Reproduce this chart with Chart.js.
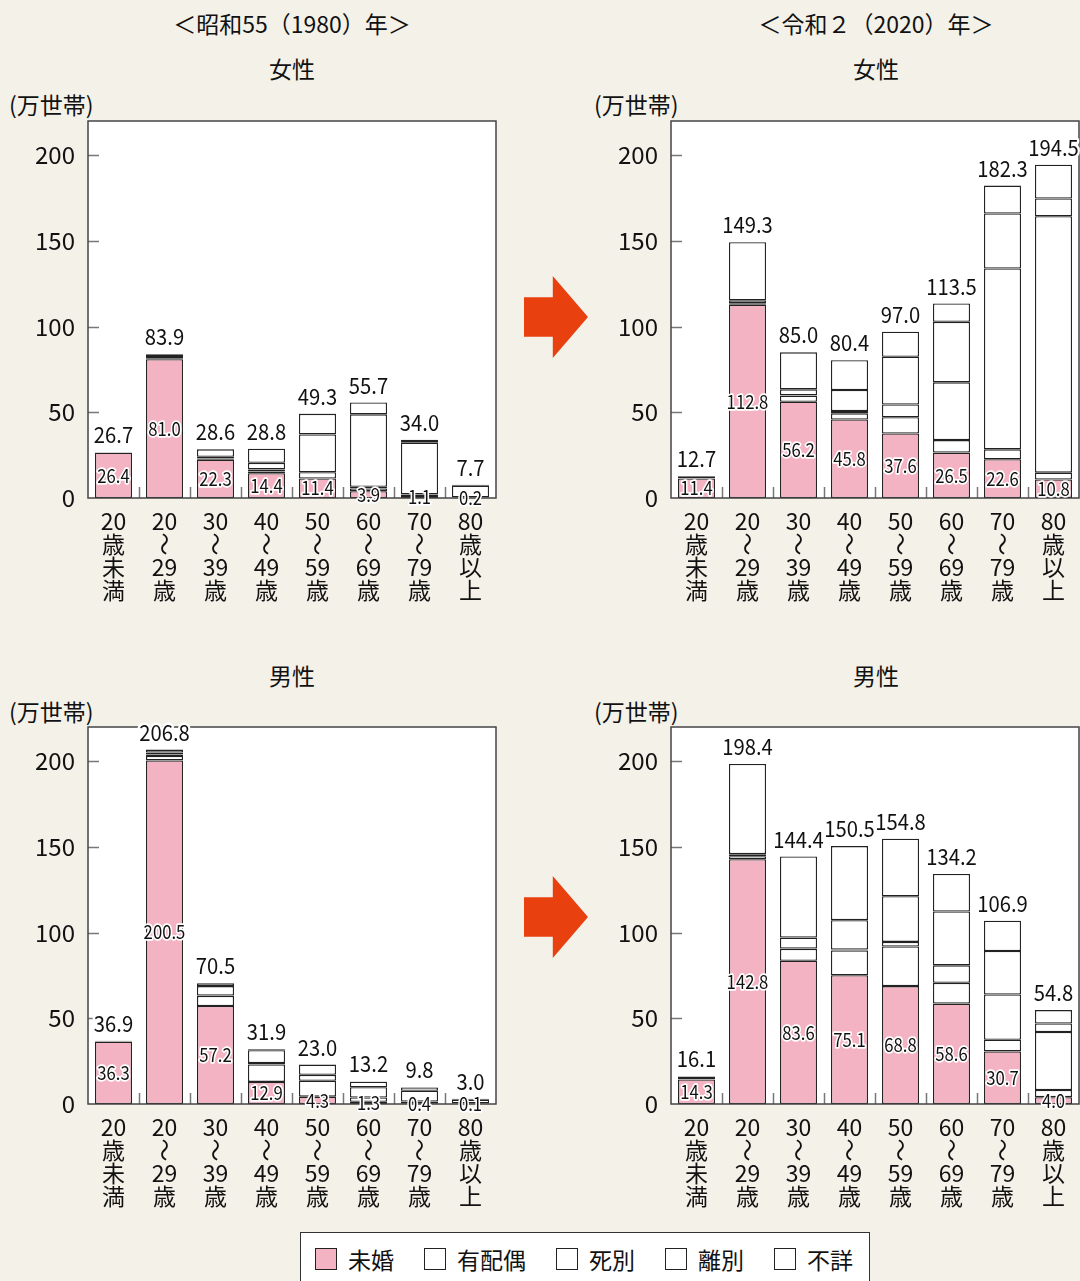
<!DOCTYPE html>
<html>
<head>
<meta charset="utf-8">
<script src="https://cdn.jsdelivr.net/npm/chart.js@4.4.1/dist/chart.umd.min.js"></script>
<style>
  html, body { margin: 0; padding: 0; }
  body { width: 1080px; height: 1281px; background: #f4f1e9; position: relative; overflow: hidden;
         font-family: "Noto Sans CJK JP", sans-serif; color: #111; }
  .txt { position: absolute; font-size: 23px; line-height: 1; white-space: nowrap; }
  .ctr { transform: translateX(-50%); }
  .panel { position: absolute; width: 560px; height: 520px; }
  .arrow { position: absolute; width: 64px; height: 82px; background: #e8400f;
           clip-path: polygon(0 26%, 45% 26%, 45% 0, 100% 50%, 45% 100%, 45% 74%, 0 74%); }
  #legend { position: absolute; left: 300px; top: 1232px; width: 570px; height: 60px; background: #fff;
            border: 1.5px solid #333; box-sizing: border-box; display: flex; align-items: flex-start;
            padding: 14px 0 0 14px; white-space: nowrap; }
  #legend .item { display: flex; align-items: center; flex-shrink: 0; margin-right: 30px; font-size: 23px; line-height: 24px; }
  #legend .sw { width: 22px; height: 22px; border: 1.3px solid #222; box-sizing: border-box; margin-right: 11px; flex-shrink: 0; }
</style>
</head>
<body>

<div class="txt ctr" style="left:292px;top:12px">＜昭和55（1980）年＞</div>
<div class="txt ctr" style="left:876px;top:12px">＜令和２（2020）年＞</div>
<div class="txt ctr" style="left:292px;top:57px">女性</div>
<div class="txt ctr" style="left:876px;top:57px">女性</div>
<div class="txt ctr" style="left:292px;top:664px">男性</div>
<div class="txt ctr" style="left:876px;top:664px">男性</div>
<div class="txt" style="left:9px;top:93px">(万世帯)</div>
<div class="txt" style="left:594px;top:93px">(万世帯)</div>
<div class="txt" style="left:9px;top:700px">(万世帯)</div>
<div class="txt" style="left:594px;top:700px">(万世帯)</div>

<div class="panel" style="left:0;top:90px"><canvas id="f1980"></canvas></div>
<div class="panel" style="left:583px;top:90px;width:497px"><canvas id="f2020"></canvas></div>
<div class="panel" style="left:0;top:696px"><canvas id="m1980"></canvas></div>
<div class="panel" style="left:583px;top:696px;width:497px"><canvas id="m2020"></canvas></div>

<div class="arrow" style="left:524px;top:276px"></div>
<div class="arrow" style="left:524px;top:876px"></div>

<div id="legend"></div>

<script>
// 年齢階級（縦書きラベル、～ は縦向きに描く）
var ages = [
  ['20', '歳', '未', '満'],
  ['20', '～', '29', '歳'],
  ['30', '～', '39', '歳'],
  ['40', '～', '49', '歳'],
  ['50', '～', '59', '歳'],
  ['60', '～', '69', '歳'],
  ['70', '～', '79', '歳'],
  ['80', '歳', '以', '上']
];
var seriesNames = ['未婚', '有配偶', '死別', '離別', '不詳'];
var yTicks = [0, 50, 100, 150, 200];

// 女性 1980
var f1980Unmarried = [26.4, 81.0, 22.3, 14.4, 11.4, 3.9, 1.1, 0.2];
var f1980Married   = [0.1, 0.6, 0.8, 1.0, 3.6, 1.7, 1.0, 0.2];
var f1980Widowed   = [0.0, 0.1, 1.0, 1.3, 22.1, 1.0, 30.1, 6.8];
var f1980Divorced  = [0.1, 1.2, 4.3, 3.8, 12.0, 42.2, 1.6, 0.4];
var f1980Unknown   = [0.1, 1.0, 0.2, 8.3, 0.2, 6.9, 0.2, 0.1];
var f1980Total     = [26.7, 83.9, 28.6, 28.8, 49.3, 55.7, 34.0, 7.7];

// 女性 2020
var f2020Unmarried = [11.4, 112.8, 56.2, 45.8, 37.6, 26.5, 22.6, 10.8];
var f2020Married   = [0.1, 0.8, 3.5, 3.6, 9.5, 7.3, 5.8, 4.0];
var f2020Widowed   = [0.0, 0.1, 0.2, 1.3, 7.5, 33.7, 105.5, 149.6];
var f2020Divorced  = [0.1, 1.7, 3.5, 12.3, 27.8, 35.3, 32.1, 10.4];
var f2020Unknown   = [1.1, 33.9, 21.6, 17.4, 14.6, 10.7, 16.3, 19.7];
var f2020Total     = [12.7, 149.3, 85.0, 80.4, 97.0, 113.5, 182.3, 194.5];

// 男性 1980
var m1980Unmarried = [36.3, 200.5, 57.2, 12.9, 4.3, 1.3, 0.4, 0.1];
var m1980Married   = [0.1, 2.6, 5.8, 10.2, 9.3, 2.5, 1.0, 0.3];
var m1980Widowed   = [0.0, 0.8, 0.3, 0.8, 3.4, 6.0, 6.3, 2.1];
var m1980Divorced  = [0.1, 1.2, 5.5, 7.5, 6.0, 3.2, 1.9, 0.4];
var m1980Unknown   = [0.4, 1.7, 1.7, 0.5, 0.0, 0.2, 0.2, 0.1];
var m1980Total     = [36.9, 206.8, 70.5, 31.9, 23.0, 13.2, 9.8, 3.0];

// 男性 2020
var m2020Unmarried = [14.3, 142.8, 83.6, 75.1, 68.8, 58.6, 30.7, 4.0];
var m2020Married   = [0.1, 1.8, 6.9, 14.5, 23.1, 12.1, 6.8, 4.2];
var m2020Widowed   = [0.0, 0.1, 0.2, 0.5, 2.7, 10.2, 26.4, 33.8];
var m2020Divorced  = [0.1, 1.1, 6.4, 17.2, 26.6, 31.4, 25.4, 5.0];
var m2020Unknown   = [1.6, 52.6, 47.3, 43.2, 33.6, 21.9, 17.6, 7.8];
var m2020Total     = [16.1, 198.4, 144.4, 150.5, 154.8, 134.2, 106.9, 54.8];

var PINK = '#f4b3c3';
var FONT = '"Noto Sans CJK JP", sans-serif';
var fills = [PINK, '#fff', '#fff', '#fff', '#fff'];

// 凡例
var legend = document.getElementById('legend');
seriesNames.forEach(function (n, i) {
  legend.innerHTML += '<div class="item"><div class="sw" style="background:' + fills[i] + '"></div>' + n + '</div>';
});

function haloText(ctx, text, x, y, sx) {
  ctx.save();
  ctx.translate(x, y);
  ctx.scale(sx, 1);
  ctx.strokeText(text, 0, 0);
  ctx.fillText(text, 0, 0);
  ctx.restore();
}

var panelPlugin = {
  id: 'panelDeco',
  beforeDatasetsDraw: function (chart) {
    var a = chart.chartArea, ctx = chart.ctx;
    ctx.save();
    ctx.fillStyle = '#fff';
    ctx.fillRect(a.left, a.top, a.right - a.left, a.bottom - a.top);
    ctx.restore();
  },
  afterDatasetsDraw: function (chart) {
    var a = chart.chartArea, ctx = chart.ctx;
    var xs = chart.scales.x, ys = chart.scales.y;
    var totals = chart.options.plugins.panelDeco.totals;
    var unmarried = chart.data.datasets[0].data;
    ctx.save();
    // 内向きの目盛り
    ctx.strokeStyle = '#777';
    ctx.lineWidth = 1.5;
    ctx.beginPath();
    yTicks.slice(1).forEach(function (v) {
      var y = Math.round(ys.getPixelForValue(v)) + 0.5;
      ctx.moveTo(a.left, y); ctx.lineTo(a.left + 11, y);
    });
    for (var i = 1; i < ages.length; i++) {
      var x = Math.round((xs.getPixelForValue(i - 1) + xs.getPixelForValue(i)) / 2) + 0.5;
      ctx.moveTo(x, a.bottom); ctx.lineTo(x, a.bottom - 11);
    }
    ctx.stroke();
    // 枠
    ctx.strokeStyle = '#444';
    ctx.lineWidth = 1.5;
    ctx.strokeRect(a.left, a.top, a.right - a.left, a.bottom - a.top);

    ctx.textAlign = 'center';
    ctx.lineJoin = 'round';
    // 未婚の値
    ctx.font = '19px ' + FONT;
    ctx.textBaseline = 'middle';
    ctx.fillStyle = '#111';
    ctx.strokeStyle = '#fff';
    ctx.lineWidth = 3.5;
    unmarried.forEach(function (v, i) {
      var x = xs.getPixelForValue(i);
      var y = (ys.getPixelForValue(0) + ys.getPixelForValue(v)) / 2;
      haloText(ctx, v.toFixed(1), x, y, 0.88);
    });
    // 合計値
    ctx.font = '22px ' + FONT;
    ctx.textBaseline = 'alphabetic';
    ctx.lineWidth = 5;
    totals.forEach(function (v, i) {
      var x = xs.getPixelForValue(i);
      var y = ys.getPixelForValue(v) - 9;
      haloText(ctx, v.toFixed(1), x, y, 0.92);
    });
    ctx.restore();
  },
  afterDraw: function (chart) {
    // 縦書きの年齢ラベル
    var a = chart.chartArea, ctx = chart.ctx, xs = chart.scales.x;
    ctx.save();
    ctx.fillStyle = '#111';
    ctx.textAlign = 'center';
    ctx.textBaseline = 'middle';
    ctx.font = '23px ' + FONT;
    ages.forEach(function (lines, i) {
      var x = xs.getPixelForValue(i);
      lines.forEach(function (t, j) {
        var y = a.bottom + 23 + j * 23;
        if (t === '～') {
          ctx.save();
          ctx.translate(x, y);
          ctx.rotate(Math.PI / 2);
          ctx.fillText(t, 0, 0);
          ctx.restore();
        } else {
          ctx.fillText(t, x, y);
        }
      });
    });
    ctx.restore();
  }
};

function makePanel(id, series, totals, rightPad) {
  var ctx = document.getElementById(id).getContext('2d');
  return new Chart(ctx, {
    type: 'bar',
    data: {
      labels: ages,
      datasets: series.map(function (d, i) {
        return {
          label: seriesNames[i], data: d, backgroundColor: fills[i],
          borderColor: '#222', borderWidth: 1.3, borderSkipped: false,
          barPercentage: 0.725, categoryPercentage: 1.0
        };
      })
    },
    options: {
      responsive: true, maintainAspectRatio: false, animation: false,
      layout: { padding: { left: 0, right: rightPad, top: 31, bottom: 0 }, autoPadding: false },
      plugins: { legend: { display: false }, tooltip: { enabled: false }, panelDeco: { totals: totals } },
      scales: {
        x: {
          stacked: true, offset: true,
          grid: { display: false, drawTicks: false }, border: { display: false },
          ticks: { display: false },
          afterFit: function (s) { s.height = 112; }
        },
        y: {
          stacked: true, min: 0, max: 220,
          grid: { display: false, drawTicks: false }, border: { display: false },
          ticks: { stepSize: 50, padding: 13, color: '#111', font: { family: FONT, size: 24 } },
          afterBuildTicks: function (s) { s.ticks = yTicks.map(function (v) { return { value: v }; }); },
          afterFit: function (s) { s.width = 88; }
        }
      }
    },
    plugins: [panelPlugin]
  });
}

makePanel('f1980', [f1980Unmarried, f1980Married, f1980Widowed, f1980Divorced, f1980Unknown], f1980Total, 64);
makePanel('f2020', [f2020Unmarried, f2020Married, f2020Widowed, f2020Divorced, f2020Unknown], f2020Total, 1);
makePanel('m1980', [m1980Unmarried, m1980Married, m1980Widowed, m1980Divorced, m1980Unknown], m1980Total, 64);
makePanel('m2020', [m2020Unmarried, m2020Married, m2020Widowed, m2020Divorced, m2020Unknown], m2020Total, 1);
</script>
</body>
</html>
